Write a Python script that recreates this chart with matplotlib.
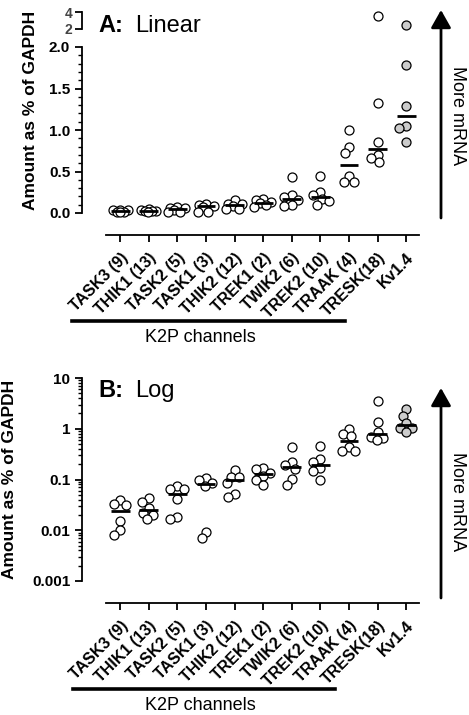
import numpy as np
import matplotlib
matplotlib.use("Agg")
import matplotlib.pyplot as plt
from matplotlib.lines import Line2D
from matplotlib.ticker import MultipleLocator, LogLocator, NullFormatter, FixedLocator

plt.rcParams['font.family'] = ['Liberation Sans', 'DejaVu Sans']

# values (amount as % of GAPDH), one list per channel
labels = ["TASK3 (9)", "THIK1 (13)", "TASK2 (5)", "TASK1 (3)", "THIK2 (12)",
          "TREK1 (2)", "TWIK2 (6)", "TREK2 (10)", "TRAAK (4)", "TRESK(18)", "Kv1.4"]
task3 = [0.040, 0.033, 0.032, 0.015, 0.010, 0.008]
thik1 = [0.043, 0.036, 0.027, 0.022, 0.020, 0.0165]
task2 = [0.075, 0.065, 0.064, 0.041, 0.018, 0.0165]
task1 = [0.106, 0.097, 0.085, 0.075, 0.0094, 0.007]
thik2 = [0.155, 0.114, 0.112, 0.085, 0.052, 0.045]
trek1 = [0.168, 0.160, 0.137, 0.115, 0.099, 0.077]
twik2 = [0.43, 0.217, 0.189, 0.160, 0.102, 0.079]
trek2 = [0.45, 0.256, 0.22, 0.168, 0.144, 0.099]
traak = [1.00, 0.80, 0.72, 0.44, 0.37, 0.37]
tresk = [3.55, 1.33, 0.85, 0.70, 0.66, 0.61]
kv14 = [2.45, 1.78, 1.29, 1.05, 1.02, 0.85]
groups = [task3, thik1, task2, task1, thik2, trek1, twik2, trek2, traak, tresk, kv14]
fills = ["white"] * 10 + ["#cccccc"]

W, H = 469, 715
fig = plt.figure(figsize=(W / 100, H / 100), dpi=100)


def box(x0, y0, x1, y1):
    # pixel box (top-left origin) -> figure fraction rect
    return [x0 / W, 1 - y1 / H, (x1 - x0) / W, (y1 - y0) / H]


def fx(x):
    return x / W


def fy(y):
    return 1 - y / H


def swarm(ax, xc, vals, d=7.5, cap=9.0):
    # simple beeswarm in pixel space, offsets capped at +-cap px
    pts = ax.transData.transform(np.column_stack([np.full(len(vals), xc), vals]))
    ys = pts[:, 1]
    ppu = ax.transData.transform((1, 1))[0] - ax.transData.transform((0, 1))[0]
    cands = np.linspace(-cap, cap, 37)
    cands = cands[np.argsort(np.abs(cands), kind="stable")]
    offs = np.zeros(len(vals))
    placed = []
    for i in np.argsort(-ys):
        best, bestd = 0.0, -1
        for c in cands:
            md = min([np.hypot(c - px, ys[i] - py) for px, py in placed] or [np.inf])
            if md >= d:
                best = c
                break
            if md > bestd:
                best, bestd = c, md
        offs[i] = best
        placed.append((best, ys[i]))
    return xc + offs / ppu


def style(ax, bottom=True):
    for s in ["top", "right"]:
        ax.spines[s].set_visible(False)
    ax.spines["left"].set_position(("outward", 17.3))
    ax.spines["bottom"].set_position(("outward", 15.8))
    ax.spines["left"].set_linewidth(1.3)
    ax.spines["bottom"].set_linewidth(1.3)
    ax.tick_params(axis="y", which="major", direction="out", length=5, width=1.3,
                   labelsize=11)
    ax.tick_params(axis="y", which="minor", direction="out", length=3, width=1)
    for t in ax.get_yticklabels():
        t.set_fontweight("bold")
    ax.set_xlim(-0.5, 10.45)
    if bottom:
        ax.set_xticks(range(len(labels)))
        ax.set_xticklabels(labels, rotation=45, ha="right", va="top",
                           rotation_mode="anchor", fontsize=11.5, fontweight="bold")
        ax.tick_params(axis="x", direction="out", length=5, width=1.3, pad=6)
    else:
        ax.spines["bottom"].set_visible(False)
        ax.tick_params(axis="x", bottom=False, labelbottom=False)


# ---------- panel A: linear with broken top ----------
axA = fig.add_axes(box(106, 47, 419, 213))
axT = fig.add_axes(box(106, 12, 419, 29))
axA.set_ylim(0, 2)
axT.set_ylim(2, 4)
axA.set_yticks([0, 0.5, 1.0, 1.5, 2.0])
axA.set_yticklabels(["0.0", "0.5", "1.0", "1.5", "2.0"])
axA.yaxis.set_minor_locator(MultipleLocator(0.1))
axT.set_yticks([2, 4])
axT.set_yticklabels(["2", "4"])
style(axA)
style(axT, bottom=False)
axT.tick_params(axis="y", labelsize=10, labelcolor="#444444", pad=2)
axT.patch.set_alpha(0)

for i, v in enumerate(groups):
    v = np.array(v)
    low = v[v <= 2]
    high = v[v > 2]
    xs = swarm(axA, i, low)
    axA.scatter(xs, low, s=42, facecolor=fills[i], edgecolor="black",
                linewidth=0.9, clip_on=False, zorder=3)
    if len(high):
        axT.scatter(np.full(len(high), i), high, s=42, facecolor=fills[i],
                    edgecolor="black", linewidth=0.9, clip_on=False, zorder=3)
    axA.hlines(np.median(v), i - 0.33, i + 0.33, color="black", lw=2, zorder=4)

axA.set_ylabel("Amount as % of GAPDH", fontweight="bold", fontsize=12.5)
axA.yaxis.set_label_coords(-0.217, 0.62)

# ---------- panel B: log ----------
axB = fig.add_axes(box(106, 378, 419, 581))
axB.set_yscale("log")
axB.set_ylim(0.001, 10)
axB.yaxis.set_major_locator(FixedLocator([0.001, 0.01, 0.1, 1, 10]))
axB.set_yticklabels(["0.001", "0.01", "0.1", "1", "10"])
axB.yaxis.set_minor_locator(LogLocator(base=10, subs=np.arange(2, 10)))
axB.yaxis.set_minor_formatter(NullFormatter())
style(axB)

for i, v in enumerate(groups):
    v = np.array(v)
    xs = swarm(axB, i, v)
    axB.scatter(xs, v, s=42, facecolor=fills[i], edgecolor="black",
                linewidth=0.9, clip_on=False, zorder=3)
    axB.hlines(np.median(v), i - 0.33, i + 0.33, color="black", lw=2, zorder=4)

axB.set_ylabel("Amount as % of GAPDH", fontweight="bold", fontsize=12.5)
axB.yaxis.set_label_coords(-0.284, 0.5)

# ---------- titles, brackets, arrows ----------
for (ytxt, letter, word) in [(32, "A:", "Linear"), (397, "B:", "Log")]:
    fig.text(fx(98), fy(ytxt), letter, fontsize=17, fontweight="bold", va="baseline")
    fig.text(fx(135), fy(ytxt), word, fontsize=17, va="baseline")

for (x0, x1, yl, yt) in [(72, 345, 321, 338), (73, 335, 689, 706)]:
    fig.add_artist(Line2D([fx(x0), fx(x1)], [fy(yl), fy(yl)], color="black", lw=2.6,
                          transform=fig.transFigure))
    fig.text(fx(200), fy(yt), "K2P channels", fontsize=13, ha="center", va="center")

for (ybot, ytip, ytxt) in [(218, 10, 116), (598, 388, 502)]:
    fig.add_artist(matplotlib.patches.FancyArrowPatch(
        (fx(441), fy(ybot)), (fx(441), fy(ytip)), transform=fig.transFigure,
        arrowstyle="-|>,head_length=10.8,head_width=6.1", mutation_scale=1,
        lw=2, color="black", shrinkA=0, shrinkB=0))
    fig.text(fx(457), fy(ytxt), "More mRNA", fontsize=13, rotation=-90,
             ha="center", va="center")

fig.savefig("out.png", dpi=100)
